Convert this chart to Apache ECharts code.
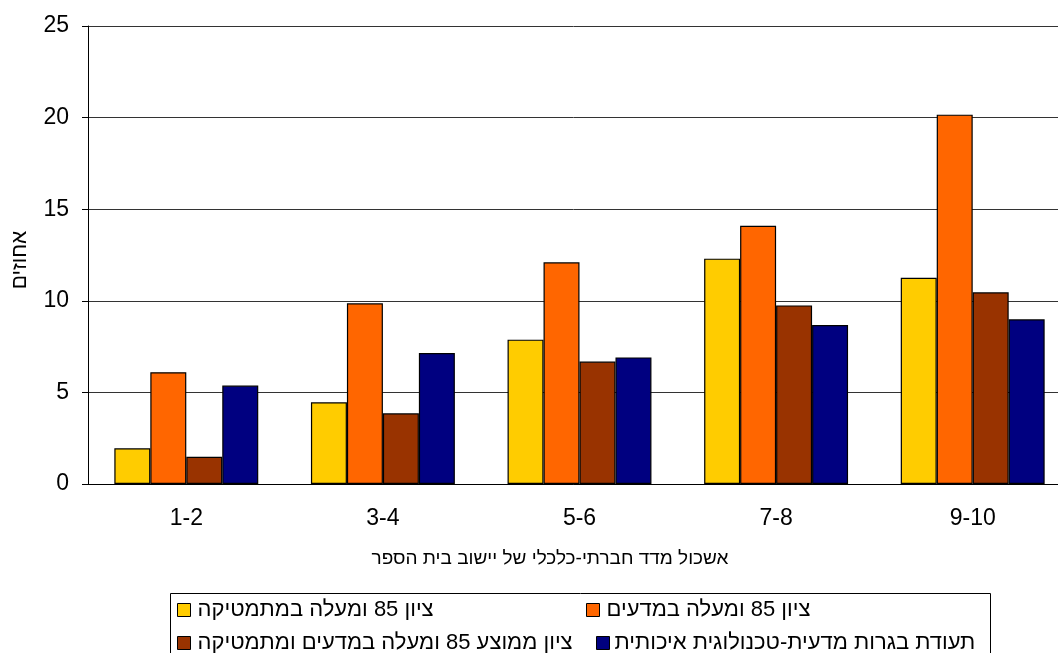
<!DOCTYPE html>
<html>
<head>
<meta charset="utf-8">
<script src="https://cdn.jsdelivr.net/npm/echarts@6/dist/echarts.min.js"></script>
<style>
  html, body { margin: 0; padding: 0; background: #fff; overflow: hidden; }
  #chart { width: 1058px; height: 653px; }
</style>
</head>
<body>
<div id="chart"></div>
<script>
// Socio-economic cluster of the school's locality
const categories = ['1-2', '3-4', '5-6', '7-8', '9-10'];
const yTicks = [0, 5, 10, 15, 20, 25];

// Percent of students per group
const mathHigh = [1.95, 4.46, 7.88, 12.3, 11.26];
const scienceHigh = [6.1, 9.86, 12.1, 14.1, 20.16];
const bothHigh = [1.49, 3.86, 6.68, 9.75, 10.46];
const qualityBagrut = [5.37, 7.15, 6.91, 8.68, 8.99];

const seriesNames = [
  'ציון 85 ומעלה במתמטיקה',
  'ציון 85 ומעלה במדעים',
  'ציון ממוצע 85 ומעלה במדעים ומתמטיקה',
  'תעודת בגרות מדעית-טכנולוגית איכותית'
];
const seriesData = [mathHigh, scienceHigh, bothHigh, qualityBagrut];
const colors = ['#FFCC00', '#FF6600', '#993300', '#000080'];

const FONT = '"Liberation Sans", Arial, sans-serif';

const legendPos = [
  { left: 177, top: 599, pad: 2 },
  { left: 586, top: 599, pad: 2 },
  { left: 177, top: 632, pad: 2 },
  { left: 596, top: 632, pad: 0 }
];

const chart = echarts.init(document.getElementById('chart'), null, { renderer: 'canvas' });

chart.setOption({
  animation: false,
  backgroundColor: '#fff',
  textStyle: { fontFamily: FONT },
  // the plot runs a little past the right edge of the canvas
  grid: {
    left: 88, top: 26, width: 983, height: 458,
    containLabel: false,
    outerBoundsMode: 'none'
  },
  xAxis: {
    type: 'category',
    data: categories,
    name: 'אשכול מדד חברתי-כלכלי של יישוב בית הספר',
    nameLocation: 'middle',
    nameGap: 65,
    nameTextStyle: { fontSize: 19, color: '#000', fontFamily: FONT, padding: [0, 59, 0, 0] },
    axisLine: { lineStyle: { color: '#000', width: 1 } },
    axisTick: { show: false },
    axisLabel: { fontSize: 23, color: '#000', margin: 23, fontFamily: FONT }
  },
  yAxis: {
    type: 'value',
    min: yTicks[0],
    max: yTicks[yTicks.length - 1],
    interval: 5,
    name: 'אחוזים',
    nameLocation: 'middle',
    nameGap: 57,
    nameRotate: 90,
    nameTextStyle: { fontSize: 21, color: '#000', fontFamily: FONT, padding: [0, 10, 0, 0] },
    axisLine: { show: true, lineStyle: { color: '#000', width: 1 } },
    axisTick: { show: true, length: 6, lineStyle: { color: '#000' } },
    axisLabel: { fontSize: 23, color: '#000', margin: 19, fontFamily: FONT },
    splitLine: { lineStyle: { color: '#333', width: 1 } }
  },
  legend: seriesNames.map((n, i) => ({
    data: [n],
    left: legendPos[i].left,
    top: legendPos[i].top,
    orient: 'horizontal',
    icon: 'rect',
    itemWidth: 13,
    itemHeight: 13,
    itemGap: 0,
    padding: 0,
    selectedMode: false,
    itemStyle: { borderColor: '#000', borderWidth: 1 },
    textStyle: { fontSize: 22, color: '#000', fontFamily: FONT, padding: [0, 0, 0, legendPos[i].pad] }
  })),
  graphic: [{
    type: 'rect',
    left: 168,
    top: 591,
    shape: { width: 820, height: 80 },
    style: { fill: 'none', stroke: '#000', lineWidth: 1 },
    silent: true,
    z: -1
  }],
  series: seriesNames.map((n, i) => ({
    name: n,
    type: 'bar',
    data: seriesData[i],
    barGap: '0%',
    barCategoryGap: '26.8%',
    itemStyle: { color: colors[i], borderColor: '#000', borderWidth: 1.2 }
  }))
});
</script>
</body>
</html>
